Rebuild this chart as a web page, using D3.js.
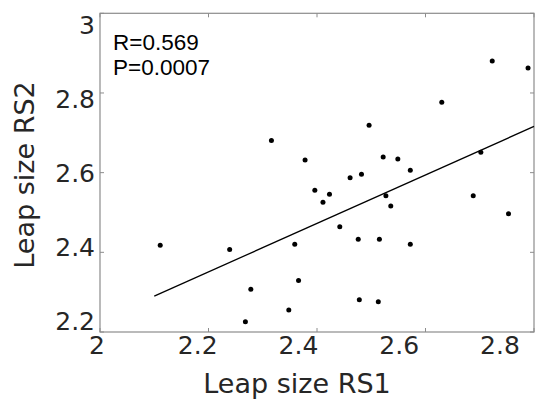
<!DOCTYPE html>
<html>
<head>
<meta charset="utf-8">
<script src="https://cdn.jsdelivr.net/npm/d3@7/dist/d3.min.js"></script>
<style>
  html, body { margin: 0; padding: 0; background: #fff; }
  svg { display: block; }
</style>
</head>
<body>
<svg id="chart" width="550" height="403"></svg>
<script>
// ---- data ----
const xValues = [2.111, 2.239, 2.278, 2.268, 2.316, 2.348, 2.359, 2.366, 2.378, 2.396,
                 2.411, 2.423, 2.442, 2.461, 2.476, 2.478, 2.482, 2.496, 2.513, 2.515,
                 2.522, 2.527, 2.536, 2.549, 2.572, 2.572, 2.630, 2.688, 2.702, 2.723,
                 2.753, 2.789];
const yValues = [2.418, 2.407, 2.307, 2.226, 2.681, 2.255, 2.420, 2.329, 2.632, 2.556,
                 2.526, 2.546, 2.464, 2.587, 2.433, 2.281, 2.596, 2.719, 2.276, 2.433,
                 2.639, 2.542, 2.516, 2.634, 2.606, 2.420, 2.777, 2.542, 2.651, 2.880,
                 2.497, 2.863];
const fitX = [2.1, 2.8];
const fitY = [2.290, 2.716];
const xTicks = [2, 2.2, 2.4, 2.6, 2.8];
const yTicks = [2.2, 2.4, 2.6, 2.8, 3];
const xTickLabels = ["2", "2.2", "2.4", "2.6", "2.8"];
const yTickLabels = ["2.2", "2.4", "2.6", "2.8", "3"];
const statLines = ["R=0.569", "P=0.0007"];
const xTitle = "Leap size RS1";
const yTitle = "Leap size RS2";

// ---- layout ----
const L = 100, R = 534, T = 13.3, B = 332;
const svg = d3.select("#chart");
const x = d3.scaleLinear().domain([2, 2.8]).range([L, R]);
const y = d3.scaleLinear().domain([2.2, 3]).range([B, T]);
// tick labels in the reference sit slightly inside the tick positions
const xLab = d3.scaleLinear().domain([2, 2.8]).range([97, 500]);
const yLab = d3.scaleLinear().domain([2.2, 3]).range([321, 25]);

const axisColor = "#8c8c8c";
const textColor = "#262626";
const tickLen = 4;

// box
svg.append("rect").attr("x", L).attr("y", T).attr("width", R - L).attr("height", B - T)
  .attr("fill", "none").attr("stroke", axisColor).attr("stroke-width", 1.2);

// ticks (inward, on all sides)
const g = svg.append("g").attr("stroke", axisColor).attr("stroke-width", 1);
xTicks.forEach(v => {
  g.append("line").attr("x1", x(v)).attr("x2", x(v)).attr("y1", B).attr("y2", B - tickLen);
  g.append("line").attr("x1", x(v)).attr("x2", x(v)).attr("y1", T).attr("y2", T + tickLen);
});
yTicks.forEach(v => {
  g.append("line").attr("x1", L).attr("x2", L + tickLen).attr("y1", y(v)).attr("y2", y(v));
  g.append("line").attr("x1", R).attr("x2", R - tickLen).attr("y1", y(v)).attr("y2", y(v));
});

// tick labels
const tickFont = "'DejaVu Sans', Verdana, sans-serif";
svg.append("g").selectAll("text").data(xTicks).join("text")
  .attr("x", d => xLab(d)).attr("y", 354)
  .attr("text-anchor", "middle")
  .attr("font-family", tickFont).attr("font-size", 25).attr("fill", textColor)
  .text((d, i) => xTickLabels[i]);
svg.append("g").selectAll("text").data(yTicks).join("text")
  .attr("x", 95).attr("y", d => yLab(d)).attr("dy", "0.36em")
  .attr("text-anchor", "end")
  .attr("font-family", tickFont).attr("font-size", 25).attr("fill", textColor)
  .text((d, i) => yTickLabels[i]);

// axis titles
svg.append("text").attr("x", 297).attr("y", 393).attr("text-anchor", "middle")
  .attr("font-family", tickFont).attr("font-size", 27).attr("fill", textColor)
  .text(xTitle);
svg.append("text").attr("transform", "translate(34,175) rotate(-90)")
  .attr("text-anchor", "middle")
  .attr("font-family", tickFont).attr("font-size", 27).attr("fill", textColor)
  .text(yTitle);

// fit line
svg.append("line")
  .attr("x1", x(fitX[0])).attr("y1", y(fitY[0]))
  .attr("x2", x(fitX[1])).attr("y2", y(fitY[1]))
  .attr("stroke", "#000").attr("stroke-width", 1.3);

// points
svg.append("g").selectAll("circle").data(xValues).join("circle")
  .attr("cx", d => x(d)).attr("cy", (d, i) => y(yValues[i]))
  .attr("r", 2.5).attr("fill", "#000");

// stats text
svg.append("g").selectAll("text").data(statLines).join("text")
  .attr("x", 113).attr("y", (d, i) => 50 + i * 25)
  .attr("font-family", "'Liberation Sans', Arial, sans-serif")
  .attr("font-size", 22.5).attr("fill", "#000")
  .text(d => d);
</script>
</body>
</html>
